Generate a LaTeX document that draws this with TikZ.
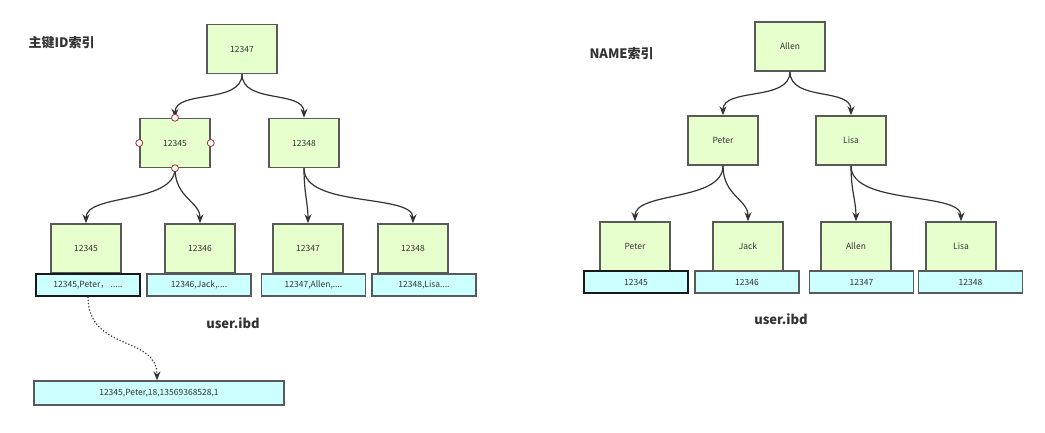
\documentclass[tikz,border=0pt]{standalone}
\usepackage{fontspec}
\setmainfont{Noto Sans CJK SC}
\usetikzlibrary{arrows.meta}
\definecolor{keygreen}{HTML}{E6FFCC}
\definecolor{rowcyan}{HTML}{CCFFFF}
\definecolor{boxline}{HTML}{595959}
\definecolor{linkc}{HTML}{333333}
\definecolor{txt}{HTML}{333333}
\definecolor{handlered}{HTML}{A33333}
\tikzset{
  keybox/.style={draw=boxline, fill=keygreen, line width=1.5pt, minimum width=70pt,
    minimum height=49pt, inner sep=0pt, text=txt, font=\fontsize{8.5}{10}\selectfont},
  rowbox/.style={draw=boxline, fill=rowcyan, line width=1.3pt, minimum width=104pt,
    minimum height=22pt, inner sep=0pt, text=txt, font=\fontsize{8.5}{10}\selectfont},
  rowsel/.style={rowbox, draw=black!90, line width=1.3pt},
  link/.style={draw=linkc, line width=1.2pt, -{Stealth[length=9pt,width=7pt]}},
  handle/.style={circle, draw=handlered, fill=white, line width=0.8pt,
    minimum size=7pt, inner sep=0pt},
  title/.style={text=txt, font=\bfseries\fontsize{13}{15}\selectfont}
}
\begin{document}
\begin{tikzpicture}[x=1pt, y=-1pt]
\useasboundingbox (0,0) rectangle (1045,433);

% ---- primary key index ----
\node[title, anchor=west] (ttl1) at (25,43) {主键ID索引};
\node[keybox] (p0) at (242,49) {12347};
\node[keybox] (p1) at (175,143) {12345};
\node[keybox] (p2) at (304,143) {12348};
\node[keybox] (pl1) at (86,248.5) {12345};
\node[keybox] (pl2) at (200,248.5) {12346};
\node[keybox] (pl3) at (308,248.5) {12347};
\node[keybox] (pl4) at (413,248.5) {12348};
\node[rowsel] (pd1) at (88,285) {12345,Peter，\ .....};
\node[rowbox] (pd2) at (199,285) {12346,Jack,....};
\node[rowbox] (pd3) at (313.5,285) {12347,Allen,....};
\node[rowbox] (pd4) at (424,285) {12348,Lisa....};
\node[rowbox, minimum width=250pt, minimum height=24pt] (rec) at (159,393) {12345,Peter,18,13569368528,1};
\node[title] (ibd1) at (233,323) {user.ibd};

\draw[link] (p0.south) .. controls +(0,30) and +(0,-28) .. (p1.north);
\draw[link] (p0.south) .. controls +(0,30) and +(0,-28) .. (p2.north);
\draw[link] (p1.south) .. controls +(0,36) and +(0,-30) .. (pl1.north);
\draw[link] (p1.south) .. controls +(0,30) and +(0,-22) .. (pl2.north);
\draw[link] (p2.south) .. controls +(0,25) and +(0,-20) .. (pl3.north);
\draw[link] (p2.south) .. controls +(0,40) and +(0,-30) .. (pl4.north);
\draw[link, dotted] (pd1.south) .. controls +(0,55) and +(0,-45) .. ([xshift=-2pt]rec.north);

% selection handles on the inner node
\node[handle] (hn) at (p1.north) {};
\node[handle] (hs) at (p1.south) {};
\node[handle] (hw) at (p1.west) {};
\node[handle] (he) at (p1.east) {};

% ---- name index ----
\node[title, anchor=west] (ttl2) at (586,54) {NAME索引};
\node[keybox] (n0) at (790,46.5) {Allen};
\node[keybox] (n1) at (723,140.5) {Peter};
\node[keybox] (n2) at (851,140.5) {Lisa};
\node[keybox] (nl1) at (635,246.5) {Peter};
\node[keybox] (nl2) at (748,246.5) {Jack};
\node[keybox] (nl3) at (856,246.5) {Allen};
\node[keybox] (nl4) at (961,246.5) {Lisa};
\node[rowsel] (nd1) at (636,282) {12345};
\node[rowbox] (nd2) at (747,282) {12346};
\node[rowbox] (nd3) at (861.5,282) {12347};
\node[rowbox] (nd4) at (970.5,282) {12348};
\node[title] (ibd2) at (781,319) {user.ibd};

\draw[link] (n0.south) .. controls +(0,30) and +(0,-28) .. (n1.north);
\draw[link] (n0.south) .. controls +(0,30) and +(0,-28) .. (n2.north);
\draw[link] (n1.south) .. controls +(0,36) and +(0,-30) .. (nl1.north);
\draw[link] (n1.south) .. controls +(0,30) and +(0,-22) .. (nl2.north);
\draw[link] (n2.south) .. controls +(0,25) and +(0,-20) .. (nl3.north);
\draw[link] (n2.south) .. controls +(0,40) and +(0,-30) .. (nl4.north);
\end{tikzpicture}
\end{document}
